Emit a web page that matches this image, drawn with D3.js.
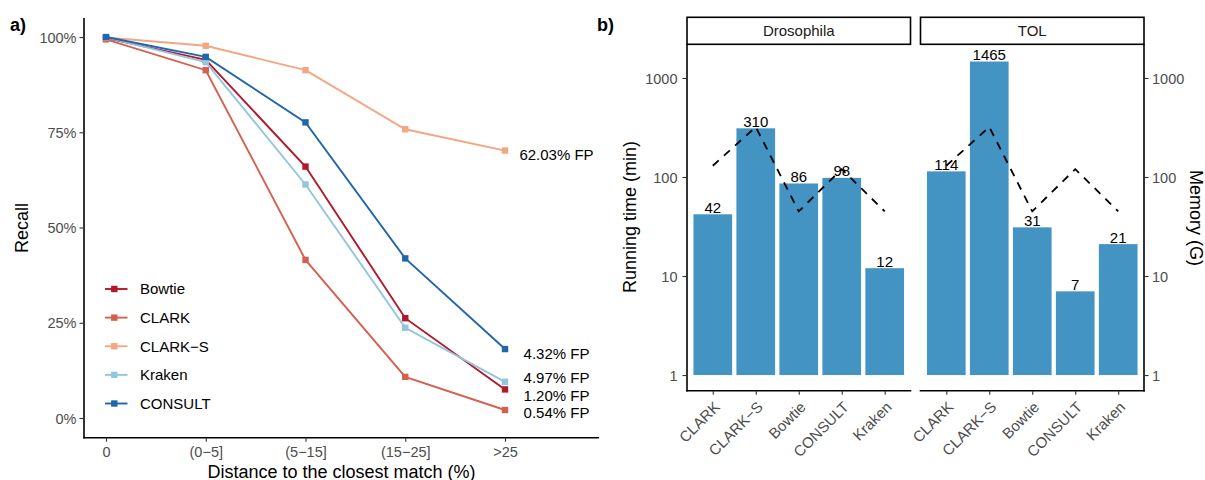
<!DOCTYPE html>
<html><head><meta charset="utf-8">
<script src="https://cdn.jsdelivr.net/npm/d3@7"></script>
<style>
body{margin:0;background:#fff}
svg{display:block}
text{font-family:"Liberation Sans",Arial,Helvetica,sans-serif}
</style>
</head><body>
<svg id="chart" width="1205" height="480"></svg>
<script>
// ---------- Panel a) data ----------
const distanceBins = ["0", "(0-5]", "(5-15]", "(15-25]", ">25"];
const methods = ["Bowtie", "CLARK", "CLARK-S", "Kraken", "CONSULT"];
const recallBowtie  = [99.7, 94.0, 66.0, 26.2, 7.5];
const recallCLARK   = [99.4, 91.3, 41.5, 10.8, 2.1];
const recallCLARKS  = [99.9, 97.7, 91.3, 75.8, 70.2];
const recallKraken  = [99.9, 93.4, 61.3, 23.7, 9.5];
const recallCONSULT = [100.0, 94.8, 77.6, 41.9, 18.1];
const fpLabels = ["1.20% FP", "0.54% FP", "62.03% FP", "4.97% FP", "4.32% FP"];
const fpLabelRecall = [5.9, 1.5, 69.0, 10.5, 16.8];
const recallTicks = [0, 25, 50, 75, 100];
const methodColors = ["#b2182b", "#d6604d", "#f4a582", "#92c5de", "#2166ac"];

// ---------- Panel b) data ----------
const datasets = ["Drosophila", "TOL"];
const tools = ["CLARK", "CLARK-S", "Bowtie", "CONSULT", "Kraken"];
const runtimeDrosophila = [42, 310, 86, 98, 12];
const runtimeTOL = [114, 1465, 31, 7, 21];
const memoryDrosophila = [130, 320, 45, 120, 45];
const memoryTOL = [130, 320, 45, 120, 45];
const logTicks = [1, 10, 100, 1000];

const disp = s => s.replace(/-/g, "\u2212");
const svg = d3.select("#chart");
const GRAY = "#4d4d4d";

// ================= Panel a =================
const recallSeries = [recallBowtie, recallCLARK, recallCLARKS, recallKraken, recallCONSULT];
const xA = d3.scalePoint().domain(distanceBins).range([106, 505]);
const yA = d3.scaleLinear().domain([-5.17, 105]).range([437.7, 18]);

const gA = svg.append("g");
gA.append("line").attr("x1", 84).attr("x2", 84).attr("y1", 18).attr("y2", 438.5)
  .attr("stroke", "#000").attr("stroke-width", 1.6);
gA.append("line").attr("x1", 83.2).attr("x2", 599).attr("y1", 437.7).attr("y2", 437.7)
  .attr("stroke", "#000").attr("stroke-width", 1.6);

const yAxisA = gA.append("g").attr("transform", "translate(84,0)")
  .call(d3.axisLeft(yA).tickValues(recallTicks).tickFormat(d => d + "%").tickSize(4.5).tickPadding(3));
yAxisA.select(".domain").remove();
yAxisA.selectAll("line").attr("stroke", "#333").attr("stroke-width", 1.1);
yAxisA.selectAll("text").attr("fill", GRAY).style("font-size", "14.5px").attr("dy", "0.35em");

const xAxisA = gA.append("g").attr("transform", "translate(0,437.7)")
  .call(d3.axisBottom(xA).tickSize(4).tickPadding(5).tickFormat(disp));
xAxisA.select(".domain").remove();
xAxisA.selectAll("line").attr("stroke", "#333").attr("stroke-width", 1.1);
xAxisA.selectAll("text").attr("fill", GRAY).style("font-size", "14.5px");

const lineA = d3.line().x((d, i) => xA(distanceBins[i])).y(d => yA(d));
recallSeries.forEach((s, k) => {
  gA.append("path").datum(s).attr("d", lineA).attr("fill", "none")
    .attr("stroke", methodColors[k]).attr("stroke-width", 1.9);
  gA.selectAll(null).data(s).enter().append("rect")
    .attr("x", (d, i) => xA(distanceBins[i]) - 3.2).attr("y", d => yA(d) - 3.2)
    .attr("width", 6.4).attr("height", 6.4).attr("fill", methodColors[k]);
});

gA.selectAll(null).data(fpLabels).enter().append("text")
  .attr("x", 556.5).attr("y", (d, i) => yA(fpLabelRecall[i])).attr("dy", "0.35em")
  .attr("text-anchor", "middle").style("font-size", "15px").attr("fill", "#000").text(d => d);

const legY = d3.scalePoint().domain(methods).range([289, 403.5]);
methods.forEach((m, k) => {
  const y = legY(m);
  gA.append("line").attr("x1", 105).attr("x2", 127.5).attr("y1", y).attr("y2", y)
    .attr("stroke", methodColors[k]).attr("stroke-width", 1.9);
  gA.append("rect").attr("x", 114.3 - 3.2).attr("y", y - 3.2).attr("width", 6.4).attr("height", 6.4)
    .attr("fill", methodColors[k]);
  gA.append("text").attr("x", 140).attr("y", y).attr("dy", "0.35em")
    .style("font-size", "15px").attr("fill", "#000").text(disp(m));
});

gA.append("text").attr("transform", "translate(28,228) rotate(-90)").attr("text-anchor", "middle")
  .style("font-size", "18px").text("Recall");
gA.append("text").attr("x", 341.5).attr("y", 477.5).attr("text-anchor", "middle")
  .style("font-size", "18px").text("Distance to the closest match (%)");
svg.append("text").attr("x", 10).attr("y", 30.5).style("font-size", "18px").style("font-weight", "bold").text("a)");

// ================= Panel b =================
svg.append("text").attr("x", 597).attr("y", 30.5).style("font-size", "18px").style("font-weight", "bold").text("b)");

const yB = d3.scaleLog().domain([Math.pow(10, -0.158), Math.pow(10, 3.34)]).range([390.7, 44.3]);
const panelRanges = [[687, 910.5], [920.5, 1144]];
const runtimes = [runtimeDrosophila, runtimeTOL];
const memories = [memoryDrosophila, memoryTOL];

datasets.forEach((ds, p) => {
  const [x0, x1] = panelRanges[p];
  const xB = d3.scaleBand().domain(tools).range([x0, x1]).paddingInner(0.1).paddingOuter(0.15);
  const cx = t => xB(t) + xB.bandwidth() / 2;
  const g = svg.append("g");

  g.append("rect").attr("x", x0).attr("y", 17.3).attr("width", x1 - x0).attr("height", 27)
    .attr("fill", "#fff").attr("stroke", "#000").attr("stroke-width", 1.6);
  g.append("text").attr("x", (x0 + x1) / 2).attr("y", 31).attr("dy", "0.35em").attr("text-anchor", "middle")
    .style("font-size", "15px").attr("fill", "#1a1a1a").text(ds);

  g.selectAll(null).data(runtimes[p]).enter().append("rect")
    .attr("x", (d, i) => xB(tools[i])).attr("width", xB.bandwidth())
    .attr("y", d => yB(d)).attr("height", d => yB(1) - yB(d))
    .attr("fill", "#4393c3");

  const lineB = d3.line().x((d, i) => cx(tools[i])).y(d => yB(d));
  g.append("path").datum(memories[p]).attr("d", lineB).attr("fill", "none")
    .attr("stroke", "#000").attr("stroke-width", 1.8).attr("stroke-dasharray", "8,7");

  g.selectAll(null).data(runtimes[p]).enter().append("text")
    .attr("x", (d, i) => cx(tools[i])).attr("y", d => yB(d) - 1.5)
    .attr("text-anchor", "middle").style("font-size", "15px").attr("fill", "#000").text(d => d);

  g.append("line").attr("x1", x0 - 0.8).attr("x2", x1 + 0.8).attr("y1", 390.7).attr("y2", 390.7)
    .attr("stroke", "#000").attr("stroke-width", 1.6);
  const xAx = g.append("g").attr("transform", "translate(0,390.7)")
    .call(d3.axisBottom(d3.scalePoint().domain(tools).range([cx(tools[0]), cx(tools[4])])).tickSize(4).tickFormat(""));
  xAx.select(".domain").remove();
  xAx.selectAll("line").attr("stroke", "#333").attr("stroke-width", 1.1);
  g.selectAll(null).data(tools).enter().append("text")
    .attr("transform", t => `translate(${cx(t) + 8},${408}) rotate(-45)`)
    .attr("text-anchor", "end").style("font-size", "15px").attr("fill", GRAY).text(d => disp(d));

  if (p === 0) {
    g.append("line").attr("x1", x0).attr("x2", x0).attr("y1", 44.3).attr("y2", 391.5)
      .attr("stroke", "#000").attr("stroke-width", 1.6);
    const ax = g.append("g").attr("transform", `translate(${x0},0)`)
      .call(d3.axisLeft(yB).tickValues(logTicks).tickFormat(d3.format("d")).tickSize(4.5).tickPadding(5));
    ax.select(".domain").remove();
    ax.selectAll("line").attr("stroke", "#333").attr("stroke-width", 1.1);
    ax.selectAll("text").attr("fill", GRAY).style("font-size", "14.5px").attr("dy", "0.35em");
  } else {
    g.append("line").attr("x1", x1).attr("x2", x1).attr("y1", 44.3).attr("y2", 391.5)
      .attr("stroke", "#000").attr("stroke-width", 1.6);
    const ax = g.append("g").attr("transform", `translate(${x1},0)`)
      .call(d3.axisRight(yB).tickValues(logTicks).tickFormat(d3.format("d")).tickSize(4.5).tickPadding(3.5));
    ax.select(".domain").remove();
    ax.selectAll("line").attr("stroke", "#333").attr("stroke-width", 1.1);
    ax.selectAll("text").attr("fill", GRAY).style("font-size", "14.5px").attr("dy", "0.35em");
  }
});

svg.append("text").attr("transform", "translate(636,217) rotate(-90)").attr("text-anchor", "middle")
  .style("font-size", "18px").text("Running time (min)");
svg.append("text").attr("transform", "translate(1190,218) rotate(90)").attr("text-anchor", "middle")
  .style("font-size", "18px").text("Memory (G)");
</script>
</body></html>
